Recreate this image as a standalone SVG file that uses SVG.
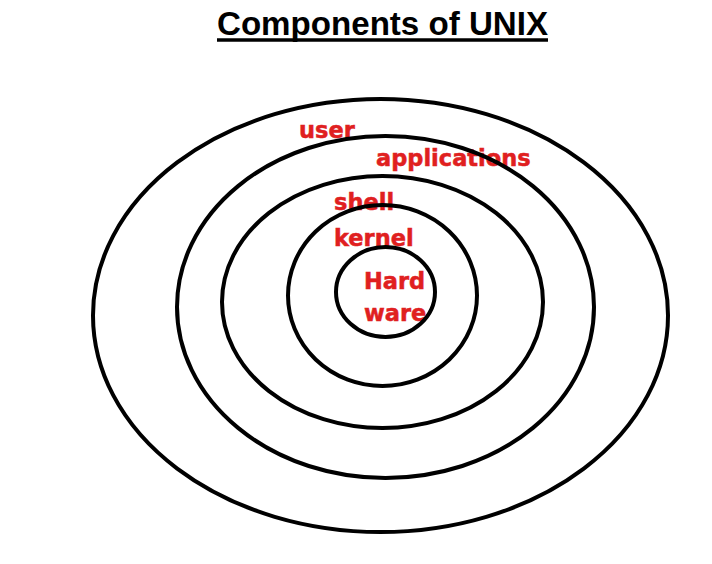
<svg xmlns="http://www.w3.org/2000/svg" width="712" height="564" viewBox="0 0 712 564">
<style>
.ring{fill:none;stroke:#000;stroke-width:4}
.lbl{font-family:"DejaVu Sans",Verdana,sans-serif;font-weight:bold;font-size:22.5px;fill:#e0201f;stroke:#e0201f;stroke-width:0.5}
.title{font-family:"Liberation Sans",Arial,sans-serif;font-weight:bold;font-size:33px;fill:#000}
</style>
<rect width="712" height="564" fill="#fff"/>
<g id="title">
<text class="title" x="217" y="35" textLength="331" lengthAdjust="spacingAndGlyphs">Components of UNIX</text>
<line x1="217" y1="40" x2="548" y2="40" stroke="#000" stroke-width="3.5"/>
</g>
<g id="user">
<text class="lbl" x="299" y="138">user</text>
<ellipse class="ring" cx="380.5" cy="315.5" rx="287.5" ry="216.5"/>
</g>
<g id="applications">
<text class="lbl" x="376" y="166">applications</text>
<ellipse class="ring" cx="385.5" cy="307" rx="208.5" ry="171"/>
</g>
<g id="shell">
<text class="lbl" x="334" y="210">shell</text>
<ellipse class="ring" cx="382.5" cy="302" rx="160.5" ry="126"/>
</g>
<g id="kernel">
<text class="lbl" x="334" y="246">kernel</text>
<ellipse class="ring" cx="382.5" cy="295.5" rx="94.5" ry="90.5"/>
</g>
<g id="hardware">
<text class="lbl" x="364" y="289">Hard</text>
<text class="lbl" x="364" y="321">ware</text>
<ellipse class="ring" cx="385.5" cy="292" rx="49.5" ry="45"/>
</g>
<g id="connectors"/>
</svg>
